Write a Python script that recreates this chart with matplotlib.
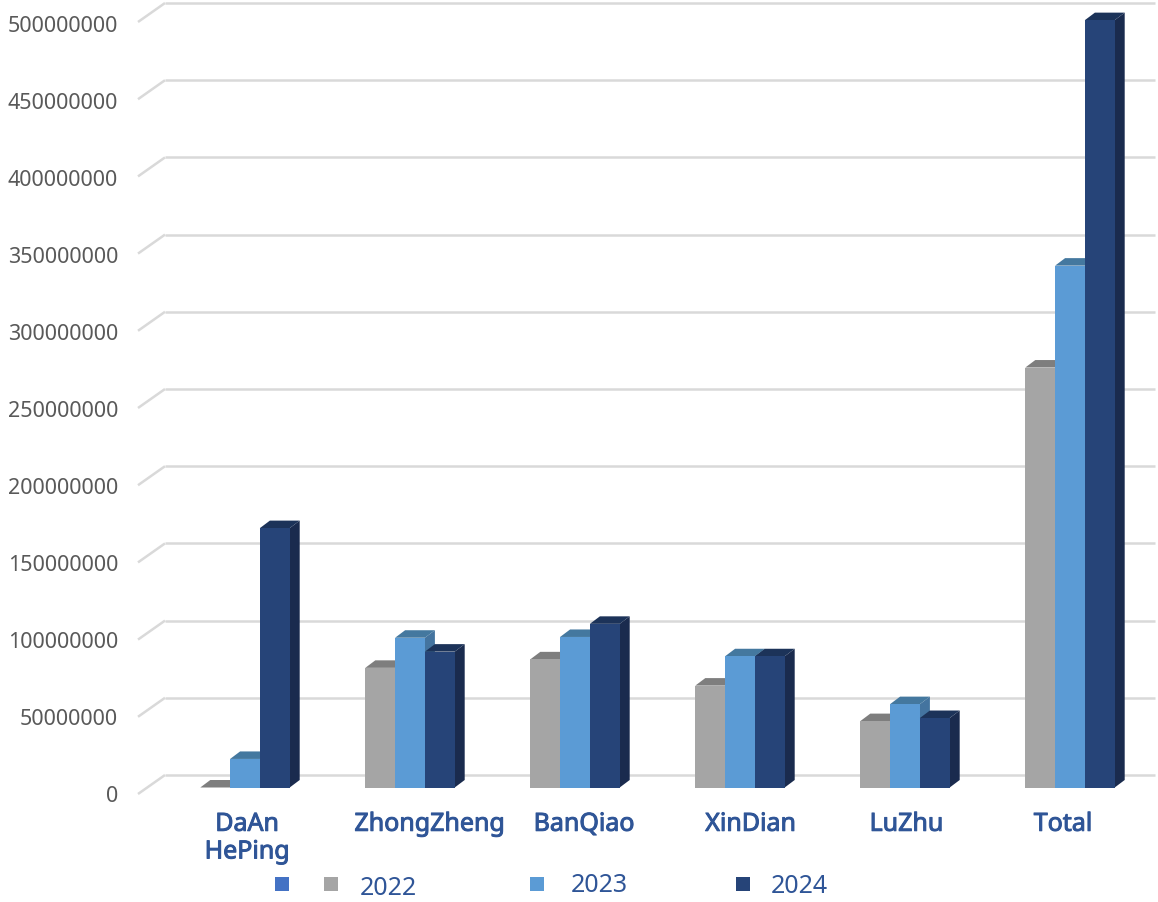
import matplotlib
matplotlib.use("Agg")
import matplotlib.pyplot as plt
import matplotlib.patheffects as pe
from matplotlib.patches import Polygon, Rectangle
from matplotlib.transforms import Affine2D

categories = ["DaAn\nHePing", "ZhongZheng", "BanQiao", "XinDian", "LuZhu", "Total"]
years = ["2022", "2023", "2024"]
v2022 = [0, 77.5e6, 83e6, 66e6, 43e6, 272e6]
v2023 = [18.5e6, 97e6, 97.5e6, 85e6, 54e6, 338e6]
v2024 = [168e6, 88e6, 106e6, 85e6, 45e6, 497e6]
yticks = list(range(0, 500000001, 50000000))

front = ["#A5A5A5", "#5B9BD5", "#264478"]
tops = ["#7E7E7E", "#44789F", "#1C3359"]
sides = ["#7C7C7C", "#44749F", "#1A2B4E"]
TEXT_BLUE = "#2F5597"
GRID = "#D9D9D9"

W, H, DPI = 1158, 902, 100
fig = plt.figure(figsize=(W / DPI, H / DPI), dpi=DPI, facecolor="white")
plt.rcParams["font.family"] = ["Noto Sans", "DejaVu Sans"]

# axes: x axis at bar baseline, y axis where the floor's front edge starts
BASE = 787.5
LEFT = 138
PX_PER_VAL = 1.544e-6
PERIOD = 165.0
C0 = 245.0
ax = fig.add_axes([LEFT / W, (H - BASE) / H, (W - LEFT) / W, BASE / H])
ax.set_xlim((LEFT - C0) / PERIOD, (W - C0) / PERIOD)
ax.set_ylim(0, BASE / PX_PER_VAL)
ax.patch.set_visible(False)
for s in ax.spines.values():
    s.set_visible(False)

dx = 10 / PERIOD            # bar depth, x
dy = 7.5 / PX_PER_VAL       # bar depth, y
bw = 29.8 / PERIOD


def px_off(px, py):
    return Affine2D().translate(px, py)


# walls: back gridlines plus the short diagonal to the front edge
back = ax.transData + px_off(0, 12.5)
x0, x1 = ax.get_xlim()
wall_dx = 27 / PERIOD
for v in yticks:
    ax.plot([x0, x0 + wall_dx], [v - 19 / PX_PER_VAL + 12.5 / PX_PER_VAL, v + 12.5 / PX_PER_VAL],
            color=GRID, lw=1.8, zorder=1, clip_on=False, solid_capstyle="butt")
    ax.plot([x0 + wall_dx, x1 - 3 / PERIOD], [v, v], transform=back,
            color=GRID, lw=1.8, zorder=1, clip_on=False, solid_capstyle="butt")

# 3-D looking bars
z = 3
for j, vals in enumerate([v2022, v2023, v2024]):
    for i, v in enumerate(vals):
        l = i + (j - 1.5) * bw
        r = l + bw
        ax.add_patch(Polygon([(r, 0), (r + dx, dy), (r + dx, v + dy), (r, v)],
                             closed=True, fc=sides[j], ec="none", zorder=z, clip_on=False))
        ax.add_patch(Polygon([(l, v), (l + dx, v + dy), (r + dx, v + dy), (r, v)],
                             closed=True, fc=tops[j], ec="none", zorder=z, clip_on=False))
        ax.bar(l, v, width=bw, align="edge", color=front[j], linewidth=0, zorder=z + 0.5)
    z += 1

# y ticks
ax.set_yticks(yticks)
ax.set_yticklabels([str(v) for v in yticks])
ax.tick_params(axis="y", length=0, pad=14.4, labelsize=15.5, labelcolor="#595959")
for lab, v in zip(ax.get_yticklabels(), yticks):
    lab.set_transform(lab.get_transform() + px_off(0, -6 - 2.5 * v / yticks[-1]))

# x ticks (labels sit slightly off their groups in the source)
label_nudges = [2, 19.5, 9, 10.5, 1.5, -7]
ax.set_xticks(range(len(categories)))
ax.set_xticklabels(categories, linespacing=1.14)
ax.tick_params(axis="x", length=0, pad=17.5, labelsize=18, labelcolor=TEXT_BLUE)
for lab, n in zip(ax.get_xticklabels(), label_nudges):
    lab.set_transform(lab.get_transform() + px_off(n, 0))
    lab.set_path_effects([pe.withStroke(linewidth=0.7, foreground=TEXT_BLUE)])


def fx(x):
    return x / W


def fy(y):
    return 1 - y / H


# legend
legend_swatches = [(275, "#4472C4"), (324, front[0]), (530, front[1]), (736, front[2])]
for x, c in legend_swatches:
    fig.patches.append(Rectangle((fx(x), fy(891)), 14 / W, 14 / H, transform=fig.transFigure,
                                 fc=c, ec="none"))
legend_text = [(360, 888.5), (571, 885.5), (771, 886.5)]
for (x, y), t in zip(legend_text, years):
    fig.text(fx(x), fy(y), t, color=TEXT_BLUE, fontsize=18, ha="left", va="center")

fig.savefig("out.png", dpi=DPI, facecolor="white")
